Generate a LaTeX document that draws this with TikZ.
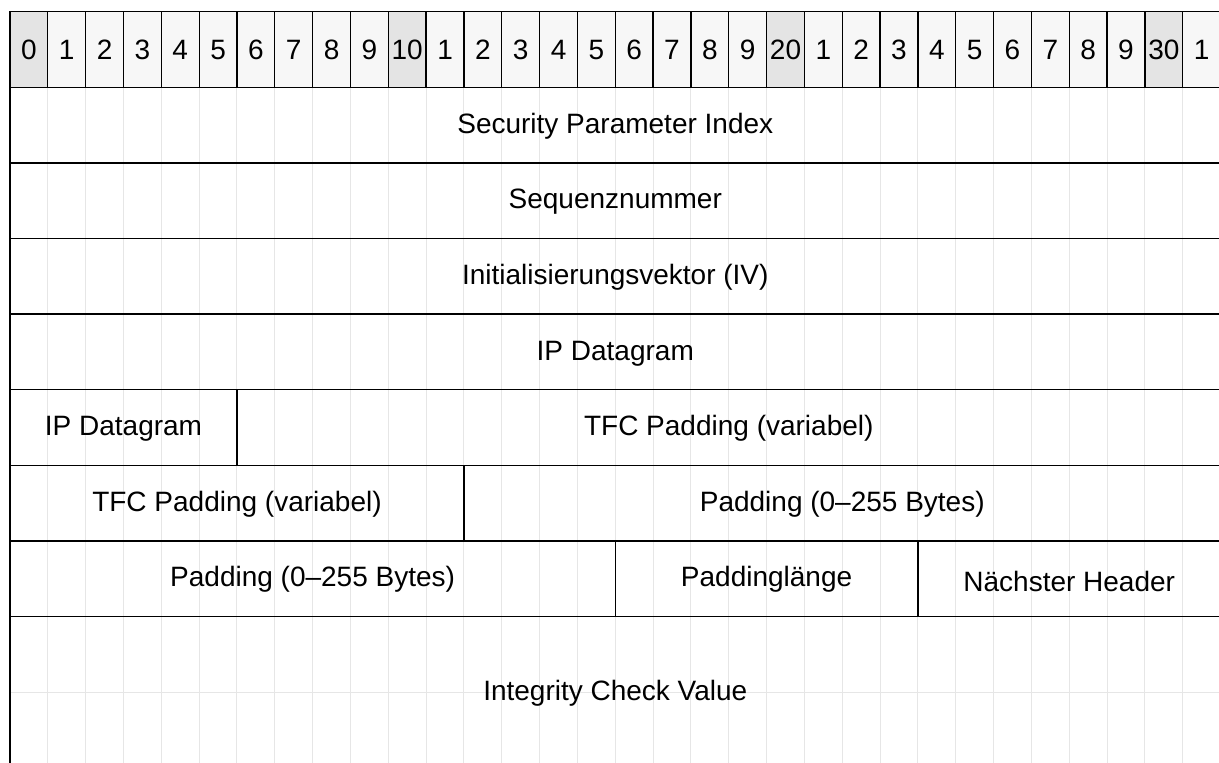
\documentclass[tikz,border=0pt]{standalone}
\usepackage{fontspec}
\setmainfont{Liberation Sans}

\definecolor{hdrlight}{HTML}{F7F7F7}
\definecolor{hdrdark}{HTML}{E4E4E4}
\definecolor{gridgrey}{HTML}{E6E6E6}

% one field of the ESP packet: name, row, first bit, number of bits, label
\newcommand{\pktfield}[5]{%
  \node[cell, minimum width=#4*37.83pt, anchor=north west]
    (#1) at ({10+#3*37.83},{11.7+#2*75.6}) {#5};}

\begin{document}
\begin{tikzpicture}[x=1pt,y=-1pt,
  cell/.style={draw=black, line width=1.3pt, inner sep=0pt, outer sep=0pt,
    minimum height=75.6pt, text height=20pt, text depth=3.6pt,
    font=\fontsize{28}{34}\selectfont},
  hdr/.style={cell, minimum width=37.83pt, text height=20pt, text depth=0pt},
  gridline/.style={draw=gridgrey, line width=1pt}]

\useasboundingbox (0,0) rectangle (1219,763);
\clip (0,0) rectangle (1219,763);
\fill[white] (0,0) rectangle (1219,763);

% light bit grid behind the fields
\foreach \col in {1,...,31}
  \draw[gridline] ({10+\col*37.83},87.3) -- ({10+\col*37.83},770);
\draw[gridline] (10,692.1) -- (1225,692.1);

% bit number header
\foreach \col in {0,...,31}{
  \pgfmathtruncatemacro\dig{mod(\col,10)}
  \ifnum\dig=0 \def\lbl{\col}\def\shade{hdrdark}\else \def\lbl{\dig}\def\shade{hdrlight}\fi
  \node[hdr, fill=\shade, anchor=north west] (bit\col) at ({10+\col*37.83},11.7) {\lbl};
}

% packet fields
\pktfield{spi}{1}{0}{32}{Security Parameter Index}
\pktfield{seq}{2}{0}{32}{Sequenznummer}
\pktfield{iv}{3}{0}{32}{Initialisierungsvektor (IV)}
\pktfield{ipa}{4}{0}{32}{IP Datagram}
\pktfield{ipb}{5}{0}{6}{IP Datagram}
\pktfield{tfca}{5}{6}{26}{TFC Padding (variabel)}
\pktfield{tfcb}{6}{0}{12}{TFC Padding (variabel)}
\pktfield{pada}{6}{12}{20}{Padding (0–255 Bytes)}
\pktfield{padb}{7}{0}{16}{Padding (0–255 Bytes)}
\pktfield{padlen}{7}{16}{8}{Paddinglänge}
\pktfield{next}{7}{24}{8}{\raisebox{-4.5pt}{Nächster Header}}
\node[cell, minimum width=32*37.83pt, minimum height=151.2pt, anchor=north west]
  (icv) at (10,{11.7+8*75.6}) {Integrity Check Value};

\end{tikzpicture}
\end{document}
